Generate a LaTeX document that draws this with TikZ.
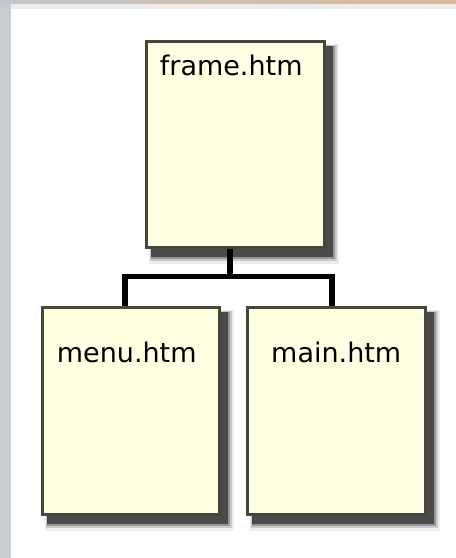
\documentclass[tikz,border=0pt]{standalone}
\usepackage{fontspec}
\setmainfont{DejaVu Sans}
\usetikzlibrary{calc}
\definecolor{boxfill}{HTML}{FFFFE1}
\definecolor{boxline}{HTML}{46463C}
\definecolor{stripgray}{HTML}{C9CDD1}
\definecolor{topgray}{HTML}{C3C7CB}
\definecolor{toptan}{HTML}{DBB697}
\definecolor{bandgray}{HTML}{ECECEC}
\pgfdeclarelayer{bg}
\pgfdeclarelayer{shadow}
\pgfdeclarelayer{conn}
\pgfsetlayers{bg,shadow,conn,main}
\tikzset{
  pagebox/.style={draw=boxline, line width=2.5pt, fill=boxfill, rectangle,
    inner sep=0pt, anchor=north west, font=\fontsize{27}{30}\selectfont},
  conn/.style={draw=black, line width=5.5pt, line join=miter},
}
\newcommand{\dropshadow}[1]{%
  \fill[black, opacity=0.07] ($(#1.north west)+(4,4)$) rectangle ($(#1.south east)+(13,15)$);
  \fill[black, opacity=0.15] ($(#1.north west)+(5,5)$) rectangle ($(#1.south east)+(11,12)$);
  \fill[black, opacity=0.25] ($(#1.north west)+(6,6)$) rectangle ($(#1.south east)+(9,10)$);
  \fill[black, opacity=0.5] ($(#1.north west)+(6,6)$) rectangle ($(#1.south east)+(7,8)$);
}
\begin{document}
\begin{tikzpicture}[x=1pt, y=-1pt]
\useasboundingbox (0,0) rectangle (456,558);
\begin{pgfonlayer}{bg}
  \fill[white] (0,0) rectangle (456,558);
  \fill[stripgray] (0,0) rectangle (11,558);
  \shade[left color=topgray, right color=toptan] (0,0) rectangle (456,4);
  \fill[bandgray] (11,4) rectangle (456,9);
\end{pgfonlayer}

\node[pagebox, minimum width=178pt, text height=34pt, text depth=172pt] (frame) at (145,40) {frame.htm\hspace*{8pt}};
\node[pagebox, minimum width=177pt, text height=55pt, text depth=152pt] (menu) at (41,306) {menu.htm\hspace*{8pt}};
\node[pagebox, minimum width=178pt, text height=55pt, text depth=152pt] (main) at (246,306) {main.htm};

\begin{pgfonlayer}{shadow}
  \dropshadow{frame}
  \dropshadow{menu}
  \dropshadow{main}
\end{pgfonlayer}

\begin{pgfonlayer}{conn}
  \draw[conn] ([xshift=-5.5pt]frame.south) -- ++(0,28) coordinate (j);
  \draw[conn] ([xshift=-6pt]menu.north) |- (j) -| ([xshift=-4.5pt]main.north);
\end{pgfonlayer}
\end{tikzpicture}
\end{document}
